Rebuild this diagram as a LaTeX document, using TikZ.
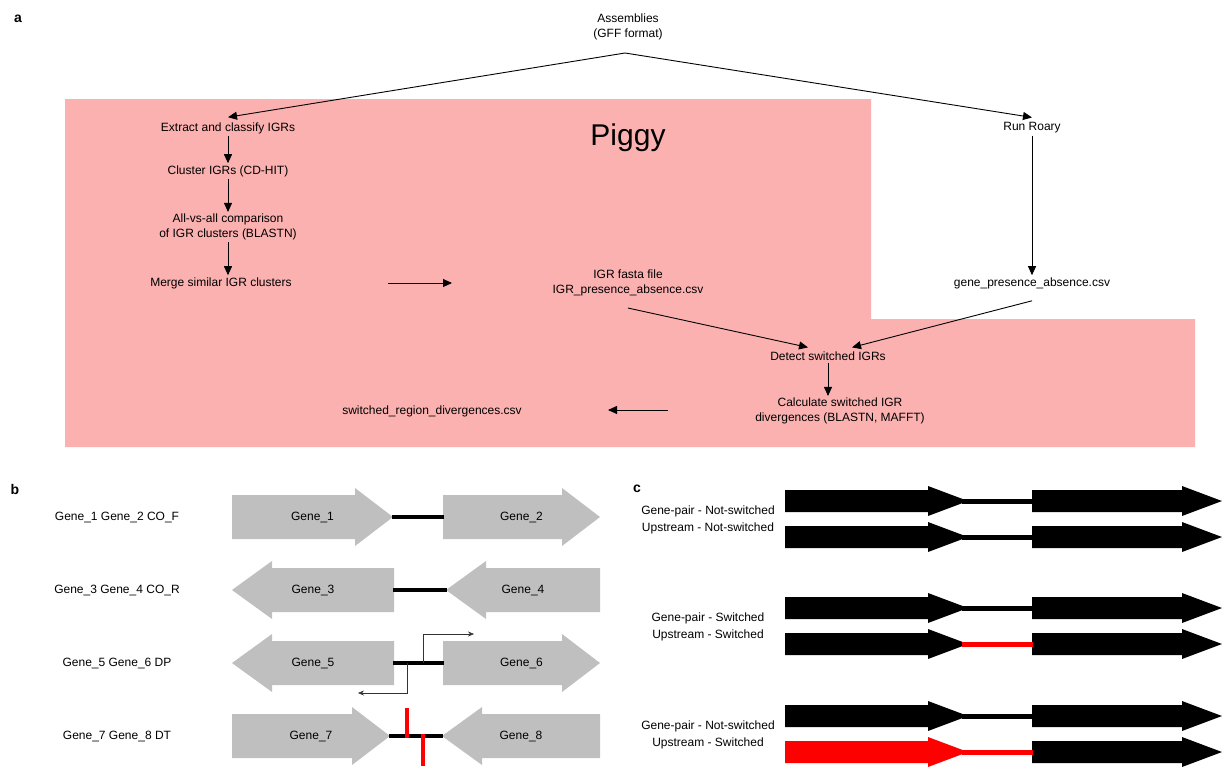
\documentclass[tikz,border=0pt]{standalone}
\usepackage{fontspec}
\setmainfont{Liberation Sans}
\usetikzlibrary{arrows.meta,calc}
\definecolor{piggypink}{RGB}{252,177,177}
\definecolor{genegray}{RGB}{191,191,191}
\definecolor{swred}{RGB}{255,0,0}
\tikzset{
  txt/.style={font=\fontsize{12}{14.5}\selectfont, inner sep=2pt, align=center},
  lbl/.style={font=\fontsize{14}{16}\selectfont\bfseries, inner sep=0pt},
  arr/.style={-{Triangle[length=9pt,width=8pt]}, line width=0.9pt},
  promo/.style={-{Stealth[length=6pt,width=5pt]}, line width=0.6pt, black!80},
  igr/.style={line width=4pt, black},
  redbar/.style={line width=4pt, swred},
  gene/.style={fill=genegray},
}
% right-pointing gene: name, xleft, xtip, ycentre, text
\newcommand\generight[5]{%
  \fill[gene] (#2,#4-22) -- (#3-38,#4-22) -- (#3-38,#4-29) -- (#3,#4) -- (#3-38,#4+29) -- (#3-38,#4+22) -- (#2,#4+22) -- cycle;
  \node[txt] (#1) at ({(#2+#3)/2},#4) {#5};}
% left-pointing gene: name, xtip, xright, ycentre, text
\newcommand\geneleft[5]{%
  \fill[gene] (#3,#4-22) -- (#2+40,#4-22) -- (#2+40,#4-29) -- (#2,#4) -- (#2+40,#4+29) -- (#2+40,#4+22) -- (#3,#4+22) -- cycle;
  \node[txt] (#1) at ({(#2+#3)/2},#4) {#5};}
% panel c arrow: colour, xleft, xtip, ycentre
\newcommand\carrow[4]{%
  \fill[#1] (#2,#4-11) -- (#3-40,#4-11) -- (#3-40,#4-15) -- (#3,#4) -- (#3-40,#4+15) -- (#3-40,#4+11) -- (#2,#4+11) -- cycle;}
\begin{document}
\begin{tikzpicture}[x=1pt,y=-1pt]
\useasboundingbox (0,0) rectangle (1225,771);
% ---------------- panel a ----------------
\fill[piggypink] (65,99) -- (871,99) -- (871,319) -- (1195,319) -- (1195,447) -- (65,447) -- cycle;
\node[lbl] (la) at (18,19) {a};
\node[txt] (asm) at (628,27) {Assemblies\\(GFF format)};
\coordinate (apex) at (625,53);
\node[font=\fontsize{30}{34}\selectfont] (piggy) at (628,138) {Piggy};
\node[txt] (extract) at (228,128) {Extract and classify IGRs};
\node[txt] (cluster) at (228,171) {Cluster IGRs (CD-HIT)};
\node[txt] (allvs) at (228,227) {All-vs-all comparison\\of IGR clusters (BLASTN)};
\node[txt] (merge) at (221,283) {Merge similar IGR clusters};
\node[txt] (igrf) at (628,283) {IGR fasta file\\IGR\_presence\_absence.csv};
\node[txt] (roary) at (1032,128) {Run Roary};
\node[txt] (gpa) at (1032,283) {gene\_presence\_absence.csv};
\node[txt] (detect) at (828,356) {Detect switched IGRs};
\node[txt] (calc) at (840,411) {Calculate switched IGR\\divergences (BLASTN, MAFFT)};
\node[txt] (srd) at (432,411) {switched\_region\_divergences.csv};
\draw[arr] (apex) -- ([yshift=3pt]extract.north);
\draw[arr] (apex) -- ([yshift=3pt]roary.north);
\draw[arr] (extract) -- (cluster);
\draw[arr] (cluster) -- (allvs);
\draw[arr] (allvs.south) -- (allvs.south |- merge.north);
\coordinate (m1) at (388,283);
\coordinate (m2) at (452,283);
\draw[arr] (m1) -- (m2);
\draw[arr] (roary) -- (roary |- gpa.north);
\draw[arr] ([yshift=-10pt]igrf.south) -- ([xshift=-20pt,yshift=2pt]detect.north);
\draw[arr] ([yshift=-10pt]gpa.south) -- ([xshift=24pt,yshift=2pt]detect.north);
\draw[arr] (detect.south) -- (detect.south |- calc.north);
\coordinate (c1) at (668,410);
\coordinate (c2) at (608,410);
\draw[arr] (c1) -- (c2);
% ---------------- panel b ----------------
\node[lbl] (lb) at (15,489) {b};
\node[txt] (r1) at (117,517) {Gene\_1 Gene\_2 CO\_F};
\node[txt] (r2) at (117,590) {Gene\_3 Gene\_4 CO\_R};
\node[txt] (r3) at (117,663) {Gene\_5 Gene\_6 DP};
\node[txt] (r4) at (117,736) {Gene\_7 Gene\_8 DT};
% row 1
\generight{g1}{232}{393}{517}{Gene\_1}
\generight{g2}{443}{600}{517}{Gene\_2}
\coordinate (i1a) at (392,517); \coordinate (i1b) at (444,517);
\draw[igr] (i1a) -- (i1b);
% row 2
\geneleft{g3}{232}{394}{590}{Gene\_3}
\geneleft{g4}{446}{600}{590}{Gene\_4}
\coordinate (i2a) at (393,590); \coordinate (i2b) at (447,590);
\draw[igr] (i2a) -- (i2b);
% row 3
\geneleft{g5}{232}{394}{663}{Gene\_5}
\generight{g6}{443}{600}{663}{Gene\_6}
\coordinate (i3a) at (393,663); \coordinate (i3b) at (444,663);
\draw[igr] (i3a) -- (i3b);
\coordinate (p1s) at (423,663); \coordinate (p1e) at (474,634);
\coordinate (p2s) at (407,663); \coordinate (p2e) at (358,693);
\draw[promo] (p1s) |- (p1e);
\draw[promo] (p2s) |- (p2e);
% row 4
\generight{g7}{232}{390}{736}{Gene\_7}
\geneleft{g8}{442}{600}{736}{Gene\_8}
\coordinate (i4a) at (389,736); \coordinate (i4b) at (443,736);
\draw[igr] (i4a) -- (i4b);
\coordinate (rb1a) at (407,708); \coordinate (rb1b) at (407,738);
\coordinate (rb2a) at (423,734); \coordinate (rb2b) at (423,766);
\draw[redbar] (rb1a) -- (rb1b);
\draw[redbar] (rb2a) -- (rb2b);
% ---------------- panel c ----------------
\node[lbl] (lc) at (637,489) {c};
\node[txt] (c1a) at (708,511) {Gene-pair - Not-switched};
\node[txt] (c1b) at (708,528) {Upstream - Not-switched};
\node[txt] (c2a) at (708,618) {Gene-pair - Switched};
\node[txt] (c2b) at (708,635) {Upstream - Switched};
\node[txt] (c3a) at (708,726) {Gene-pair - Not-switched};
\node[txt] (c3b) at (708,743) {Upstream - Switched};
\foreach \yy/\lc/\ac in {501/black/black, 537/black/black, 608/black/black, 644/swred/black, 716/black/black, 752/swred/swred} {
  \carrow{\ac}{785}{968}{\yy}
  \carrow{black}{1032}{1222}{\yy}
  \fill[\lc] (962,\yy-2.5) rectangle (1033,\yy+2.5);
}
\end{tikzpicture}
\end{document}
